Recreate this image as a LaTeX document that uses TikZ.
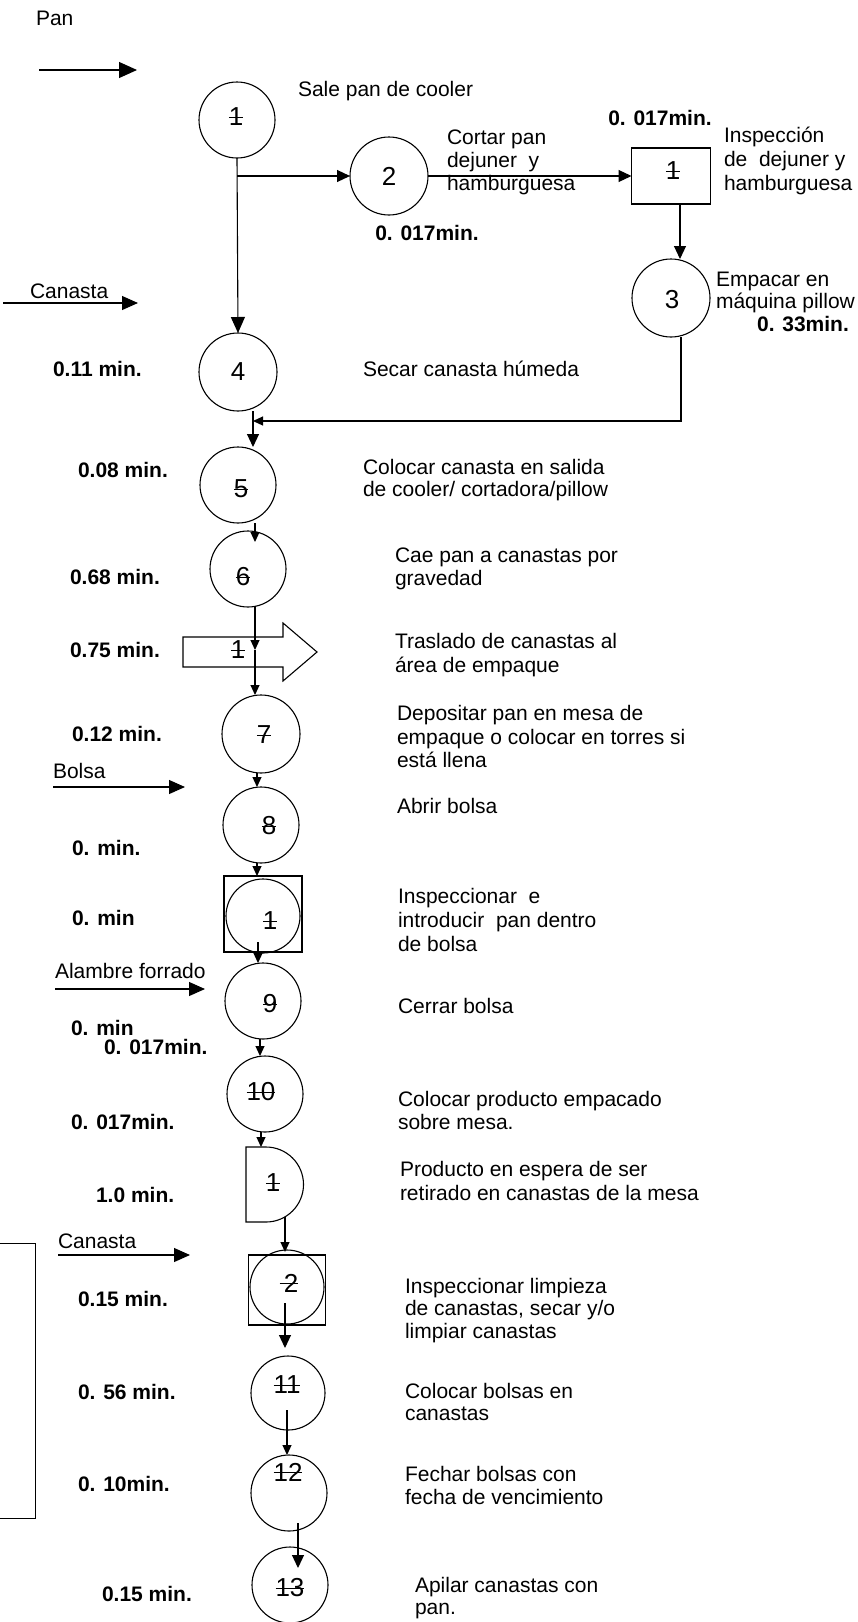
\documentclass[tikz,border=0pt]{standalone}
\usepackage{fontspec}
\setmainfont{Liberation Sans}
\usetikzlibrary{arrows.meta,calc}
\newcommand\stk[1]{\setbox0=\hbox{#1}\rlap{\copy0}\rule[0.33em]{\wd0}{0.6pt}}
\begin{document}
\begin{tikzpicture}[x=1pt,y=-1pt,
  every node/.style={inner sep=0pt, outer sep=0pt},
  txt/.style={anchor=base west, align=left, font=\fontsize{21}{23.5}\selectfont},
  tim/.style={anchor=base west, font=\fontsize{21}{23}\selectfont\bfseries},
  num/.style={font=\fontsize{26}{28}\selectfont},
  op/.style={circle, draw, line width=1.1pt, minimum size=76pt},
  insp/.style={rectangle, draw, line width=1.1pt},
  arr/.style={line width=1.1pt, -{Triangle[length=10pt,width=9pt]}},
  midarr/.style={line width=1.1pt, -{Triangle[length=13pt,width=12pt]}},
  inarr/.style={line width=1.1pt, -{Triangle[length=16pt,width=14pt]}},
  shp/.style={line width=1.1pt}
]
\fill[white] (0,0) rectangle (857,1622);
\useasboundingbox (0,0) rectangle (857,1622);

% ---------- top part ----------
\node[txt] (lpan) at (36,25) {Pan};
\coordinate (panA) at (39,70);
\coordinate (panB) at (137,70);
\draw[line width=1.1pt, -{Triangle[length=18pt,width=16pt]}] (panA) -- (panB);

\node[op] (c1) at (237,120) {};
\node[num] (n1) at (236,117) {\stk{1}};
\node[txt] (t1txt) at (298,96.5) {Sale pan de cooler};

\node[op, minimum size=78pt] (c2) at (389,176) {};
\node[num] (n2) at (389,176) {2};
\node[txt, font=\fontsize{21}{22.7}\selectfont] (t2txt) at (447,190) {Cortar pan\\dejuner\ \ y\\hamburguesa};
\node[tim, anchor=base] (tm2) at (427,240) {0. 017min.};

\node[insp, minimum width=79pt, minimum height=56pt] (b1) at (671,176) {};
\node[num] (nb1) at (673,171) {\stk{1}};
\node[tim, anchor=base] (tmb1) at (660,125) {0. 017min.};
\node[txt, font=\fontsize{21}{24}\selectfont] (tb1txt) at (724,190) {Inspección\\de\ \ dejuner y\\hamburguesa};

\node[op, minimum size=78pt] (c3) at (671,298) {};
\node[num] (n3) at (672,300) {3};
\node[txt, font=\fontsize{21}{22}\selectfont] (t3txt) at (716,308) {Empacar en\\máquina pillow};
\node[tim, anchor=base] (tm3) at (803,331) {0. 33min.};

\coordinate (br) at (237,176);
\coordinate (ret) at (253,421);

\draw[midarr] (br) -- (c2.west);
\draw[midarr] (c2.east) -- (b1.west);
\draw[midarr] ($(b1.south)+(9,0)$) -- ($(c3.north)+(9,0)$);
\draw[arr] ($(c3.south)+(10,0)$) |- (ret);

% ---------- Canasta ----------
\node[txt] (lcan1) at (30,298.5) {Canasta};
\coordinate (canA) at (3,303);
\coordinate (canB) at (138,303);
\draw[inarr] (canA) -- (canB);

\node[op, minimum size=78pt] (c4) at (238,372) {};
\node[num] (n4) at (238,372) {4};
\node[tim] (tm4) at (53,376) {0.11 min.};
\node[txt] (t4txt) at (363,376) {Secar canasta húmeda};
\draw[inarr] (c1.south) -- (c4.north);

\node[op] (c5) at (238,485) {};
\node[num] (n5) at (241,489) {\stk{5}};
\node[tim] (tm5) at (78,477.5) {0.08 min.};
\node[txt, font=\fontsize{21}{22.5}\selectfont] (t5txt) at (363,496.5) {Colocar canasta en salida\\de cooler/ cortadora/pillow};
\draw[midarr] ($(c4.south)+(15,0)$) -- ($(c5.north)+(15,0)$);

\node[op] (c6) at (248,569) {};
\node[num] (n6) at (243,577) {\stk{6}};
\node[tim] (tm6) at (70,584) {0.68 min.};
\node[txt, font=\fontsize{21}{22.6}\selectfont] (t6txt) at (395,585) {Cae pan a canastas por\\gravedad};
\draw[arr] ($(c5.south)+(17,0)$) -- ($(c6.north)+(7,11)$);

% transport
\draw[shp] (183,637) -- (283,637) -- (283,623) -- (317,652) -- (283,681) -- (283,667) -- (183,667) -- cycle;
\node[num] (nt1) at (238,650) {\stk{1}};
\coordinate (tr) at (255,650);
\node[tim] (tmt) at (70,657.5) {0.75 min.};
\node[txt, font=\fontsize{21}{23.8}\selectfont] (tttxt) at (395,672) {Traslado de canastas al\\área de empaque};
\draw[arr] ($(c6.south)+(7,0)$) -- (tr);

\node[op, minimum size=78pt] (c7) at (261,734) {};
\node[num] (n7) at (264,735) {\stk{7}};
\node[tim] (tm7) at (72,741.5) {0.12 min.};
\node[txt] (t7txt) at (397,767.5) {Depositar pan en mesa de\\empaque o colocar en torres si\\está llena};
\draw[arr] (tr) -- ($(c7.north)+(-6,0)$);

% Bolsa
\node[txt] (lbol) at (53,778.5) {Bolsa};
\coordinate (bolA) at (53,787);
\coordinate (bolB) at (185,787);
\draw[inarr] (bolA) -- (bolB);

\node[op] (c8) at (261,825) {};
\node[num] (n8) at (269,826) {\stk{8}};
\node[tim] (tm8) at (72,855.5) {0. min.};
\node[txt] (t8txt) at (397,813.5) {Abrir bolsa};
\draw[arr] ($(c7.south)+(-4,0)$) -- ($(c8.north)+(-4,0)$);

% combined inspection / operation 1
\node[insp, minimum width=78pt, minimum height=76pt] (s1) at (263,914) {};
\node[op, minimum size=74pt] (s1c) at (263,916) {};
\node[num] (ns1) at (270,921) {\stk{1}};
\node[tim] (tms1) at (72,925.5) {0. min};
\node[txt, font=\fontsize{21}{24}\selectfont] (ts1txt) at (398,951.5) {Inspeccionar\ \ e\\introducir\ \ pan dentro\\de bolsa};
\draw[arr] ($(c8.south)+(-4,0)$) -- ($(s1.north)+(-6,0)$);

% Alambre forrado
\node[txt] (lala) at (55,978.5) {Alambre forrado};
\coordinate (alaA) at (55,989);
\coordinate (alaB) at (205,989);
\draw[inarr] (alaA) -- (alaB);

\node[op] (c9) at (263,1001) {};
\node[num] (n9) at (270,1004) {\stk{9}};
\node[tim] (tm9a) at (71,1035.5) {0. min};
\node[tim] (tm9b) at (104,1054) {0. 017min.};
\node[txt] (t9txt) at (398,1013.5) {Cerrar bolsa};
\draw[arr] ($(s1.south)+(-5,-10)$) -- ($(c9.north)+(-5,0)$);

\node[op] (c10) at (265,1094) {};
\node[num] (n10) at (261,1092) {\stk{10}};
\node[tim] (tm10) at (71,1129.5) {0. 017min.};
\node[txt] (t10txt) at (398,1129.5) {Colocar producto empacado\\sobre mesa.};
\draw[arr] ($(c9.south)+(-3,0)$) -- ($(c10.north)+(-5,0)$);

% delay
\node[minimum width=57pt, minimum height=75pt] (d1) at (274.5,1184.5) {};
\draw[shp] (246,1147) -- (266,1147) arc[start angle=-90, end angle=90, radius=37.5] -- (246,1222) -- cycle;
\node[num] (nd1) at (273,1183) {\stk{1}};
\node[tim] (tmd) at (96,1202) {1.0 min.};
\node[txt, font=\fontsize{21}{23.8}\selectfont] (tdtxt) at (400,1200) {Producto en espera de ser\\retirado en canastas de la mesa};
\draw[arr] ($(c10.south)+(-4,0)$) -- ($(d1.north)+(-13.5,0)$);

% Canasta 2 and bracket
\node[txt] (lcan2) at (58,1248.5) {Canasta};
\coordinate (can2A) at (58,1255);
\coordinate (can2B) at (190,1255);
\draw[inarr] (can2A) -- (can2B);
\draw[line width=1pt] (0,1243) -- (35,1243) -- (35,1518) -- (0,1518);

% combined inspection / operation 2
\node[insp, minimum width=77pt, minimum height=70pt] (s2) at (287,1290) {};
\node[op, minimum size=74pt] (s2c) at (287,1287) {};
\node[num] (ns2) at (289,1283) {\stk{\,2}};
\node[tim] (tms2) at (78,1306.5) {0.15 min.};
\node[txt, font=\fontsize{21}{22.7}\selectfont] (ts2txt) at (405,1338.5) {Inspeccionar limpieza\\de canastas, secar y/o\\limpiar canastas};
\draw[arr] ($(d1.south)+(10.5,-5)$) -- ($(s2.north)+(-2,-3)$);

\node[op, minimum size=74pt] (c11) at (288,1393) {};
\node[num] (n11) at (287,1385) {\stk{11}};
\node[tim] (tm11) at (78,1399.5) {0. 56 min.};
\node[txt, font=\fontsize{21}{22}\selectfont] (t11txt) at (405,1420.5) {Colocar bolsas en\\canastas};
\draw[midarr] ($(s2.center)+(-2,13)$) -- ($(c11.north)+(-3,-8)$);

\node[op] (c12) at (289,1493) {};
\node[num] (n12) at (288,1472) {\stk{12}};
\node[tim] (tm12) at (78,1491.5) {0. 10min.};
\node[txt, font=\fontsize{21}{22.6}\selectfont] (t12txt) at (405,1504) {Fechar bolsas con\\fecha de vencimiento};
\draw[arr] ($(c11.center)+(-1,17)$) -- ($(c12.north)+(-2,0)$);

\node[op] (c13) at (290,1585) {};
\node[num] (n13) at (290,1588) {\stk{13}};
\node[tim] (tm13) at (102,1601.5) {0.15 min.};
\node[txt, font=\fontsize{21}{21.7}\selectfont] (t13txt) at (415,1614.5) {Apilar canastas con\\pan.};
\draw[midarr] ($(c12.center)+(9,30)$) -- ($(c13.north)+(8,21)$);
\end{tikzpicture}
\end{document}
